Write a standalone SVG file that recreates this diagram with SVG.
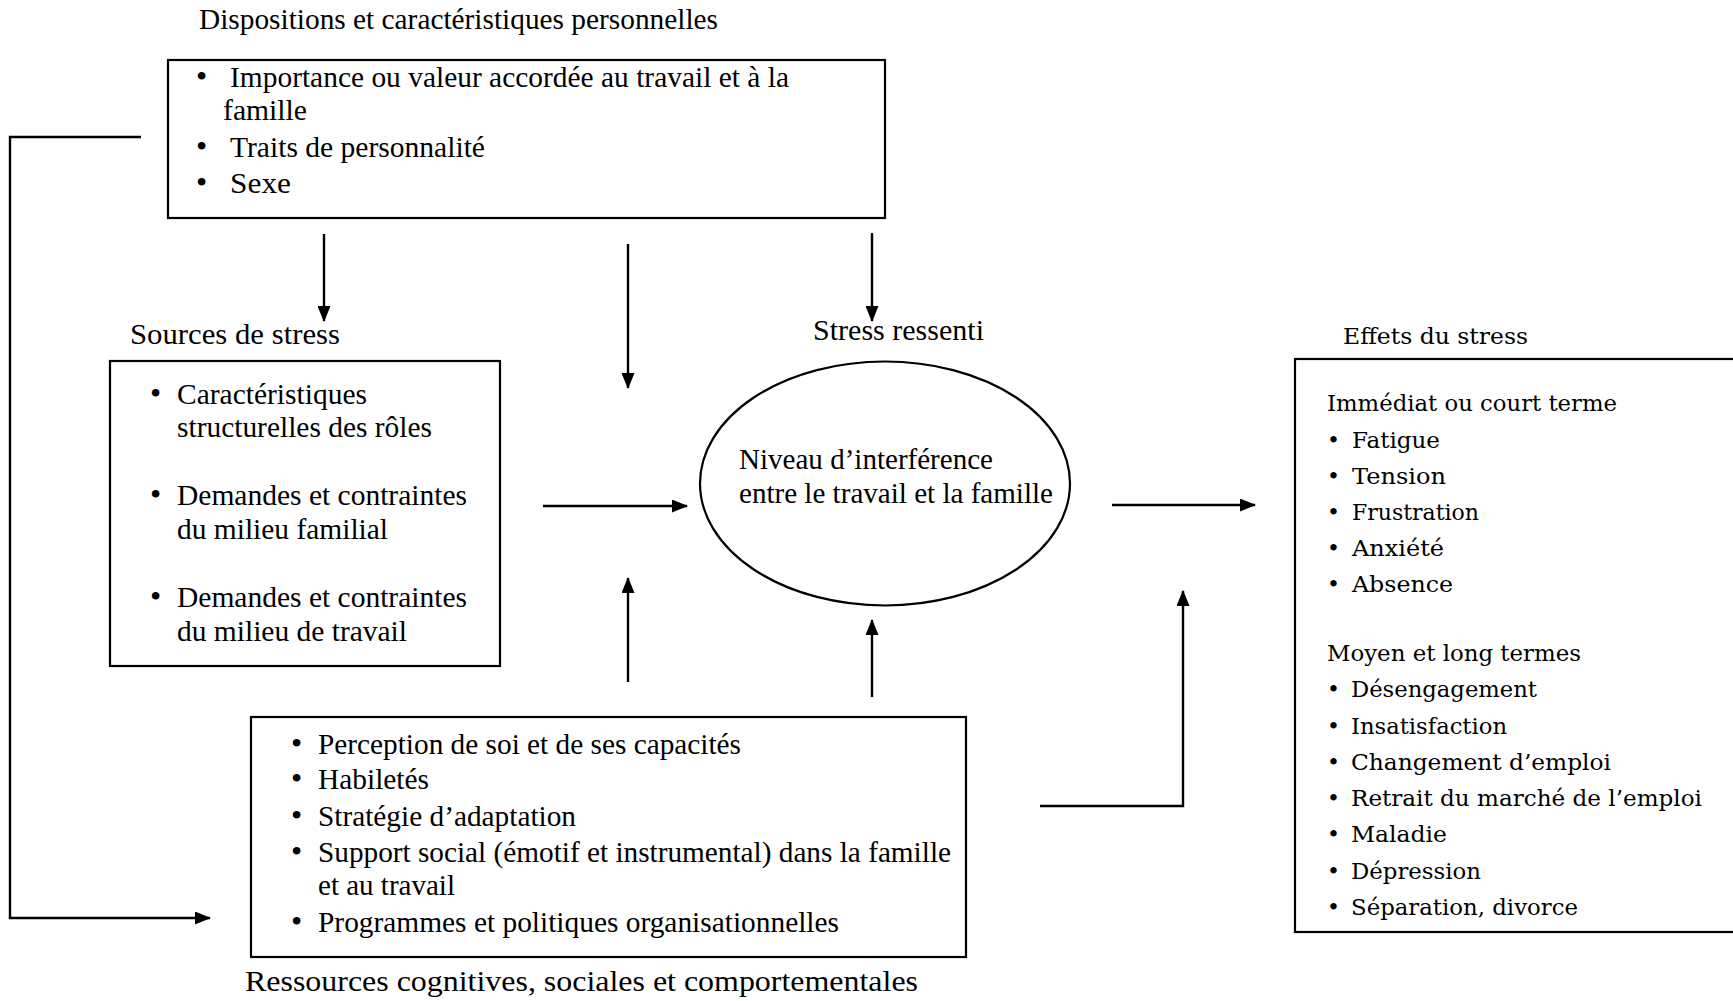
<svg xmlns="http://www.w3.org/2000/svg" width="1733" height="1001" viewBox="0 0 1733 1001">
<style>
text{font-family:"Liberation Serif","Times New Roman",serif;font-size:29px;fill:#000}
.e{font-family:"DejaVu Serif","Liberation Serif",serif;font-size:22px}
.b{font-size:30px}
.u{font-size:32px}
.box{fill:none;stroke:#000;stroke-width:2.2}
.c{fill:none;stroke:#000;stroke-width:2.4}
</style>
<defs>
<marker id="ah" viewBox="0 0 16 13" refX="15" refY="6.5" markerWidth="16" markerHeight="13" markerUnits="userSpaceOnUse" orient="auto">
<path d="M0,0 L16,6.5 L0,13 Z" fill="#000"/>
</marker>
</defs>
<rect width="1733" height="1001" fill="#fff"/>

<g id="dispositions">
<text x="199" y="29" textLength="519" lengthAdjust="spacingAndGlyphs">Dispositions et caractéristiques personnelles</text>
<rect class="box" x="168" y="60" width="717" height="158"/>
<text x="196" y="87"><tspan class="u">•</tspan><tspan x="230" textLength="559" lengthAdjust="spacingAndGlyphs">Importance ou valeur accordée au travail et à la</tspan></text>
<text x="223" y="120" textLength="84" lengthAdjust="spacingAndGlyphs">famille</text>
<text x="196" y="157"><tspan class="u">•</tspan><tspan x="230" textLength="255" lengthAdjust="spacingAndGlyphs">Traits de personnalité</tspan></text>
<text x="196" y="193"><tspan class="u">•</tspan><tspan x="230" textLength="61" lengthAdjust="spacingAndGlyphs">Sexe</tspan></text>
</g>

<g id="sources">
<text x="130" y="344" textLength="210" lengthAdjust="spacingAndGlyphs">Sources de stress</text>
<rect class="box" x="110" y="361" width="390" height="305"/>
<text x="150" y="404"><tspan class="u">•</tspan><tspan x="177" textLength="190" lengthAdjust="spacingAndGlyphs">Caractéristiques</tspan></text>
<text x="177" y="437" textLength="255" lengthAdjust="spacingAndGlyphs">structurelles des rôles</text>
<text x="150" y="505"><tspan class="u">•</tspan><tspan x="177" textLength="290" lengthAdjust="spacingAndGlyphs">Demandes et contraintes</tspan></text>
<text x="177" y="539" textLength="211" lengthAdjust="spacingAndGlyphs">du milieu familial</text>
<text x="150" y="607"><tspan class="u">•</tspan><tspan x="177" textLength="290" lengthAdjust="spacingAndGlyphs">Demandes et contraintes</tspan></text>
<text x="177" y="641" textLength="230" lengthAdjust="spacingAndGlyphs">du milieu de travail</text>
</g>

<g id="stress">
<text x="813" y="340" textLength="171" lengthAdjust="spacingAndGlyphs">Stress ressenti</text>
<ellipse class="box" cx="885" cy="483.5" rx="185" ry="122"/>
<text x="739" y="469" textLength="254" lengthAdjust="spacingAndGlyphs">Niveau d’interférence</text>
<text x="739" y="503" textLength="314" lengthAdjust="spacingAndGlyphs">entre le travail et la famille</text>
</g>

<g id="effets">
<text class="e" x="1343" y="344" textLength="185" lengthAdjust="spacingAndGlyphs">Effets du stress</text>
<rect class="box" x="1295" y="359" width="460" height="573"/>
<text class="e" x="1327" y="411" textLength="290" lengthAdjust="spacingAndGlyphs">Immédiat ou court terme</text>
<text class="e" x="1327" y="448"><tspan>•</tspan><tspan x="1352" textLength="88" lengthAdjust="spacingAndGlyphs">Fatigue</tspan></text>
<text class="e" x="1327" y="484"><tspan>•</tspan><tspan x="1352" textLength="94" lengthAdjust="spacingAndGlyphs">Tension</tspan></text>
<text class="e" x="1327" y="520"><tspan>•</tspan><tspan x="1352" textLength="127" lengthAdjust="spacingAndGlyphs">Frustration</tspan></text>
<text class="e" x="1327" y="556"><tspan>•</tspan><tspan x="1352" textLength="92" lengthAdjust="spacingAndGlyphs">Anxiété</tspan></text>
<text class="e" x="1327" y="592"><tspan>•</tspan><tspan x="1352" textLength="101" lengthAdjust="spacingAndGlyphs">Absence</tspan></text>
<text class="e" x="1327" y="661" textLength="254" lengthAdjust="spacingAndGlyphs">Moyen et long termes</text>
<text class="e" x="1327" y="697"><tspan>•</tspan><tspan x="1351" textLength="186" lengthAdjust="spacingAndGlyphs">Désengagement</tspan></text>
<text class="e" x="1327" y="734"><tspan>•</tspan><tspan x="1351" textLength="156" lengthAdjust="spacingAndGlyphs">Insatisfaction</tspan></text>
<text class="e" x="1327" y="770"><tspan>•</tspan><tspan x="1351" textLength="260" lengthAdjust="spacingAndGlyphs">Changement d’emploi</tspan></text>
<text class="e" x="1327" y="806"><tspan>•</tspan><tspan x="1351" textLength="351" lengthAdjust="spacingAndGlyphs">Retrait du marché de l’emploi</tspan></text>
<text class="e" x="1327" y="842"><tspan>•</tspan><tspan x="1351" textLength="96" lengthAdjust="spacingAndGlyphs">Maladie</tspan></text>
<text class="e" x="1327" y="879"><tspan>•</tspan><tspan x="1351" textLength="130" lengthAdjust="spacingAndGlyphs">Dépression</tspan></text>
<text class="e" x="1327" y="915"><tspan>•</tspan><tspan x="1351" textLength="227" lengthAdjust="spacingAndGlyphs">Séparation, divorce</tspan></text>
</g>

<g id="ressources">
<rect class="box" x="251" y="717" width="715" height="240"/>
<text class="b" x="291" y="754"><tspan class="u">•</tspan><tspan x="318" textLength="423" lengthAdjust="spacingAndGlyphs">Perception de soi et de ses capacités</tspan></text>
<text class="b" x="291" y="789"><tspan class="u">•</tspan><tspan x="318" textLength="111" lengthAdjust="spacingAndGlyphs">Habiletés</tspan></text>
<text class="b" x="291" y="826"><tspan class="u">•</tspan><tspan x="318" textLength="258" lengthAdjust="spacingAndGlyphs">Stratégie d’adaptation</tspan></text>
<text class="b" x="291" y="862"><tspan class="u">•</tspan><tspan x="318" textLength="633" lengthAdjust="spacingAndGlyphs">Support social (émotif et instrumental) dans la famille</tspan></text>
<text class="b" x="318" y="895" textLength="137" lengthAdjust="spacingAndGlyphs">et au travail</text>
<text class="b" x="291" y="932"><tspan class="u">•</tspan><tspan x="318" textLength="521" lengthAdjust="spacingAndGlyphs">Programmes et politiques organisationnelles</tspan></text>
<text class="b" x="245" y="991" textLength="673" lengthAdjust="spacingAndGlyphs">Ressources cognitives, sociales et comportementales</text>
</g>

<g id="connectors">
<path class="c" d="M141,137 H10 V918 H210" marker-end="url(#ah)"/>
<path class="c" d="M324,234 V321" marker-end="url(#ah)"/>
<path class="c" d="M628,244 V388" marker-end="url(#ah)"/>
<path class="c" d="M872,233 V321" marker-end="url(#ah)"/>
<path class="c" d="M543,506 H687" marker-end="url(#ah)"/>
<path class="c" d="M1112,505 H1255" marker-end="url(#ah)"/>
<path class="c" d="M628,682 V578" marker-end="url(#ah)"/>
<path class="c" d="M872,697 V620" marker-end="url(#ah)"/>
<path class="c" d="M1040,806 H1183 V591" marker-end="url(#ah)"/>
</g>
</svg>
